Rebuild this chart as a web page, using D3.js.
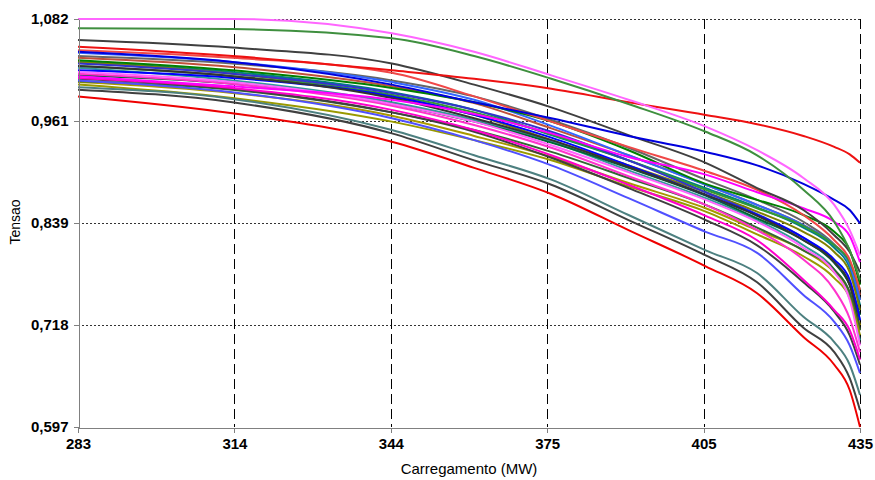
<!DOCTYPE html>
<html lang="pt">
<head>
    <meta charset="UTF-8">
    <title>Tensao x Carregamento</title>
    <script src="https://cdn.jsdelivr.net/npm/d3@7"></script>
    <style>
        body { margin: 0; background: #fff; }
        .axis path.domain, .axis line
        {
            stroke: #808080;
            shape-rendering: crispEdges;
        }
        .axis text
        {
            font-family: Arial, 'Liberation Sans', sans-serif;
            font-size: 15px;
            font-weight: bold;
            fill: #000;
        }
        .title
        {
            font-family: Arial, 'Liberation Sans', sans-serif;
            font-size: 15px;
        }
        .serie { fill: none; stroke-width: 2; stroke-linejoin: round; }
    </style>
</head>
<body>
<svg id="img" width="875" height="480"></svg>
<script>
    // carregamento (MW) onde as tensoes foram lidas
    var carga = [283, 313, 344, 360, 375, 390, 405, 415, 424, 430, 433, 435];

    var xTickVals = [283, 313.4, 343.8, 374.2, 404.6, 435];
    var xTickLabels = ["283", "314", "344", "375", "405", "435"];
    var yTickVals = [0.597, 0.71825, 0.8395, 0.96075, 1.082];
    var yTickLabels = ["0,597", "0,718", "0,839", "0,961", "1,082"];

    // uma lista por barra / curva
    var pinkTop  = [1.082, 1.082, 1.065, 1.043, 1.015, 0.986, 0.954, 0.926, 0.893, 0.861, 0.831, 0.801];
    var greenTop = [1.071, 1.070, 1.059, 1.038, 1.011, 0.981, 0.948, 0.920, 0.879, 0.841, 0.807, 0.772];
    var redFlat  = [1.049, 1.038, 1.021, 1.011, 0.999, 0.983, 0.968, 0.957, 0.943, 0.930, 0.921, 0.911];
    var grayTop  = [1.057, 1.048, 1.029, 1.004, 0.977, 0.944, 0.911, 0.881, 0.855, 0.825, 0.805, 0.781];
    var blueTop  = [1.043, 1.031, 1.004, 0.983, 0.964, 0.943, 0.924, 0.908, 0.886, 0.867, 0.855, 0.839];
    var magenta  = [1.014, 1.002, 0.986, 0.969, 0.946, 0.918, 0.897, 0.876, 0.857, 0.841, 0.824, 0.793];
    var salmon   = [1.045, 1.036, 1.018, 0.990, 0.960, 0.930, 0.901, 0.879, 0.849, 0.819, 0.796, 0.760];
    var green2   = [1.033, 1.021, 1.000, 0.983, 0.960, 0.926, 0.886, 0.867, 0.849, 0.829, 0.807, 0.766];
    var blue2    = [1.042, 1.031, 1.007, 0.986, 0.955, 0.920, 0.885, 0.861, 0.837, 0.813, 0.790, 0.748];
    var teal     = [1.031, 1.019, 0.995, 0.974, 0.944, 0.914, 0.881, 0.858, 0.834, 0.810, 0.786, 0.742];
    var olive    = [1.031, 1.017, 0.990, 0.968, 0.938, 0.908, 0.876, 0.853, 0.829, 0.805, 0.781, 0.736];
    var blueB    = [1.021, 1.012, 0.990, 0.968, 0.941, 0.908, 0.873, 0.849, 0.822, 0.796, 0.772, 0.724];
    var grayA    = [1.026, 1.014, 0.988, 0.964, 0.938, 0.906, 0.873, 0.848, 0.819, 0.793, 0.766, 0.712];
    var pinkB    = [1.019, 1.007, 0.981, 0.960, 0.932, 0.900, 0.867, 0.841, 0.810, 0.781, 0.748, 0.694];
    var magentaB = [1.012, 1.000, 0.974, 0.950, 0.920, 0.885, 0.848, 0.819, 0.772, 0.736, 0.712, 0.677];
    var grayB    = [1.011, 0.999, 0.971, 0.948, 0.917, 0.881, 0.843, 0.813, 0.769, 0.734, 0.706, 0.671];
    var dkGreen  = [1.008, 0.998, 0.971, 0.950, 0.924, 0.893, 0.861, 0.834, 0.807, 0.784, 0.757, 0.712];
    var oliveB   = [1.004, 0.988, 0.960, 0.938, 0.914, 0.883, 0.853, 0.826, 0.800, 0.774, 0.750, 0.706];
    var violet   = [1.009, 0.995, 0.964, 0.938, 0.908, 0.869, 0.829, 0.804, 0.754, 0.722, 0.694, 0.661];
    var tealGray = [1.001, 0.987, 0.950, 0.920, 0.891, 0.849, 0.807, 0.780, 0.728, 0.698, 0.671, 0.635];
    var grayC    = [0.998, 0.983, 0.946, 0.914, 0.885, 0.843, 0.801, 0.769, 0.715, 0.686, 0.655, 0.617];
    var redLow   = [0.990, 0.970, 0.936, 0.905, 0.874, 0.831, 0.788, 0.756, 0.704, 0.671, 0.641, 0.597];
    var brown    = [1.036, 1.025, 1.002, 0.982, 0.952, 0.920, 0.885, 0.861, 0.837, 0.813, 0.792, 0.754];
    var greenC   = [1.026, 1.014, 0.992, 0.971, 0.945, 0.914, 0.879, 0.857, 0.836, 0.813, 0.793, 0.760];
    var blueC    = [1.029, 1.017, 0.994, 0.974, 0.948, 0.914, 0.876, 0.850, 0.822, 0.793, 0.766, 0.724];
    var pinkC    = [1.017, 1.005, 0.979, 0.956, 0.929, 0.895, 0.861, 0.831, 0.796, 0.760, 0.726, 0.686];
    var tealC    = [1.024, 1.009, 0.983, 0.962, 0.936, 0.902, 0.869, 0.843, 0.813, 0.784, 0.754, 0.700];
    var gold     = [1.007, 0.994, 0.967, 0.943, 0.918, 0.887, 0.857, 0.831, 0.807, 0.781, 0.757, 0.718];
    var dkGreen2 = [1.015, 1.005, 0.981, 0.960, 0.935, 0.905, 0.872, 0.845, 0.819, 0.792, 0.766, 0.730];
    var grayD    = [1.038, 1.029, 1.009, 0.990, 0.962, 0.929, 0.891, 0.867, 0.841, 0.814, 0.791, 0.748];

    var series = [
        [grayD, "#666666"], [brown, "#C0503A"], [teal, "#008080"], [olive, "#808000"],
        [blue2, "#3366FF"], [greenC, "#339933"], [blueC, "#3333CC"], [tealC, "#339999"],
        [dkGreen2, "#006633"], [gold, "#A89800"], [blueB, "#0000FF"], [grayA, "#333333"],
        [dkGreen, "#336633"], [oliveB, "#999900"], [green2, "#008000"], [pinkC, "#FF33CC"],
        [pinkB, "#FF66FF"], [grayB, "#404040"], [magentaB, "#FF00CC"], [violet, "#5050FF"],
        [tealGray, "#4D8080"], [grayC, "#404040"], [redLow, "#EE0000"], [salmon, "#F04848"],
        [magenta, "#FF00FF"], [grayTop, "#404040"], [blueTop, "#0000DD"], [redFlat, "#EE1111"],
        [greenTop, "#3F8F3F"], [pinkTop, "#FF66FF"]
    ];

    var vis = d3.select("#img"),
        MARGINS = { top: 19, right: 15, bottom: 53, left: 78 },
        WIDTH = 875,
        HEIGHT = 480;

    var xRange = d3.scaleLinear()
        .range([MARGINS.left, WIDTH - MARGINS.right])
        .domain([283, 435]);
    var yRange = d3.scaleLinear()
        .range([HEIGHT - MARGINS.bottom, MARGINS.top])
        .domain([0.597, 1.082]);

    // grade horizontal pontilhada
    vis.append("g").selectAll("line")
        .data(yTickVals.slice(1))
        .enter().append("line")
        .attr("x1", MARGINS.left).attr("x2", WIDTH - MARGINS.right)
        .attr("y1", function (d) { return Math.round(yRange(d)) + 0.5; })
        .attr("y2", function (d) { return Math.round(yRange(d)) + 0.5; })
        .attr("stroke", "#333")
        .attr("stroke-dasharray", "2,2");

    // grade vertical tracejada
    vis.append("g").selectAll("line")
        .data(xTickVals.slice(1))
        .enter().append("line")
        .attr("y1", MARGINS.top).attr("y2", HEIGHT - MARGINS.bottom)
        .attr("x1", function (d) { return Math.round(xRange(d)) + 0.5; })
        .attr("x2", function (d) { return Math.round(xRange(d)) + 0.5; })
        .attr("stroke", "#000")
        .attr("stroke-dasharray", "10,5");

    var lineFunc = d3.line()
        .x(function (d, i) { return xRange(carga[i]); })
        .y(function (d) { return yRange(d); })
        .curve(d3.curveMonotoneX);

    vis.append("g").selectAll("path")
        .data(series)
        .enter().append("path")
        .attr("class", "serie")
        .attr("d", function (s) { return lineFunc(s[0]); })
        .attr("stroke", function (s) { return s[1]; });

    var xAxis = d3.axisBottom(xRange)
        .tickValues(xTickVals)
        .tickFormat(function (d, i) { return xTickLabels[i]; })
        .tickSize(5).tickSizeOuter(0).tickPadding(6);
    var yAxis = d3.axisLeft(yRange)
        .tickValues(yTickVals)
        .tickFormat(function (d, i) { return yTickLabels[i]; })
        .tickSize(5).tickSizeOuter(0).tickPadding(5);

    vis.append("g")
        .attr("class", "x axis")
        .attr("transform", "translate(0," + (HEIGHT - MARGINS.bottom + 0.5) + ")")
        .call(xAxis);
    vis.append("g")
        .attr("class", "y axis")
        .attr("transform", "translate(" + (MARGINS.left + 0.5) + ",0)")
        .call(yAxis);

    vis.append("text")
        .attr("class", "title")
        .attr("x", 469)
        .attr("y", 474)
        .attr("text-anchor", "middle")
        .text("Carregamento (MW)");
    vis.append("text")
        .attr("class", "title")
        .style("font-size", "14px")
        .attr("transform", "translate(20,222) rotate(-90)")
        .attr("text-anchor", "middle")
        .text("Tensao");
</script>
</body>
</html>
